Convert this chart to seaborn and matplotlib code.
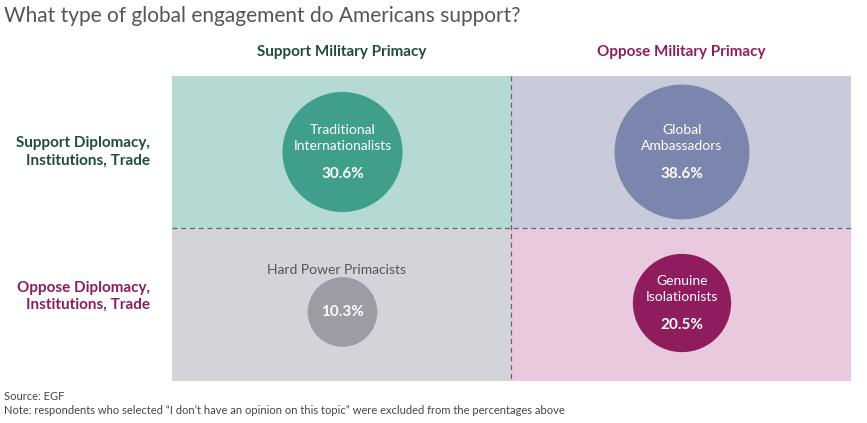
import matplotlib
matplotlib.use("Agg")
import matplotlib.pyplot as plt
from matplotlib.patches import Circle, Rectangle
import seaborn as sns
import numpy as np

sns.set_theme(style="white")
plt.rcParams["font.family"] = "Lato"

cols = ["Support Military Primacy", "Oppose Military Primacy"]
rows = ["Support Diplomacy,\nInstitutions, Trade", "Oppose Diplomacy,\nInstitutions, Trade"]
groups = ["Traditional\nInternationalists", "Global\nAmbassadors", "Hard Power Primacists", "Genuine\nIsolationists"]
values = [30.6, 38.6, 10.3, 20.5]
col_idx = [0, 1, 0, 1]
row_idx = [0, 0, 1, 1]
bg_colors = ["#b4dad3", "#c9cbdb", "#d3d4d9", "#e8c9dd"]
circle_colors = ["#3f9f8a", "#7c85ae", "#9c9ca4", "#8f1d5e"]
header_colors = ["#1f4d40", "#8f1d5e"]

W, H = 867, 423
fig = plt.figure(figsize=(W/100, H/100), dpi=100)
ax = fig.add_axes([0, 0, 1, 1])
ax.set_xlim(0, W); ax.set_ylim(H, 0); ax.axis("off")

x0, xm, x1 = 172, 511, 851
y0, ym, y1 = 76, 228, 381
xs = [(x0, xm), (xm, x1)]
ys = [(y0, ym), (ym, y1)]
k = 10.85
for i, v in enumerate(values):
    (a, b), (c, d) = xs[col_idx[i]], ys[row_idx[i]]
    ax.add_patch(Rectangle((a, c), b-a, d-c, color=bg_colors[i], lw=0))
    cx = (a+b)/2 + 1
    r = k*np.sqrt(v)
    if i == 2:
        cy = 312
        ax.text(cx-6, 270, groups[i], ha="center", va="center", fontsize=10, color="#555555")
        ax.add_patch(Circle((cx, cy), r, color=circle_colors[i], lw=0))
        ax.text(cx, cy, f"{v}%", ha="center", va="center", fontsize=11, color="white", fontweight="bold")
    else:
        cy = 152 if row_idx[i] == 0 else 303
        ax.add_patch(Circle((cx, cy), r, color=circle_colors[i], lw=0))
        ax.text(cx, cy-14, groups[i], ha="center", va="center", fontsize=10, color="white", linespacing=1.4)
        ax.text(cx, cy+22, f"{v}%", ha="center", va="center", fontsize=11, color="white", fontweight="bold")

ax.plot([xm, xm], [y0, y1], ls=(0, (4, 3)), color="#666666", lw=0.9)
ax.plot([x0, x1], [ym, ym], ls=(0, (4, 3)), color="#666666", lw=0.9)

for j, t in enumerate(cols):
    ax.text(sum(xs[j])/2, 52, t, ha="center", va="center", fontsize=11, fontweight="bold", color=header_colors[j])
for j, t in enumerate(rows):
    ax.text(150, sum(ys[j])/2 - (0 if j == 0 else 8), t, ha="right", va="center", fontsize=11,
            fontweight="bold", color=header_colors[j], linespacing=1.3)

ax.text(4, 16, "What type of global engagement do Americans support?", fontsize=15, color="#555555",
        va="center", ha="left")
ax.text(4, 397, "Source: EGF", fontsize=8, color="#444444", va="center")
ax.text(4, 411, "Note: respondents who selected \u201cI don\u2019t have an opinion on this topic\u201d were excluded from the percentages above",
        fontsize=8, color="#444444", va="center")
fig.savefig("out.png", dpi=100)
